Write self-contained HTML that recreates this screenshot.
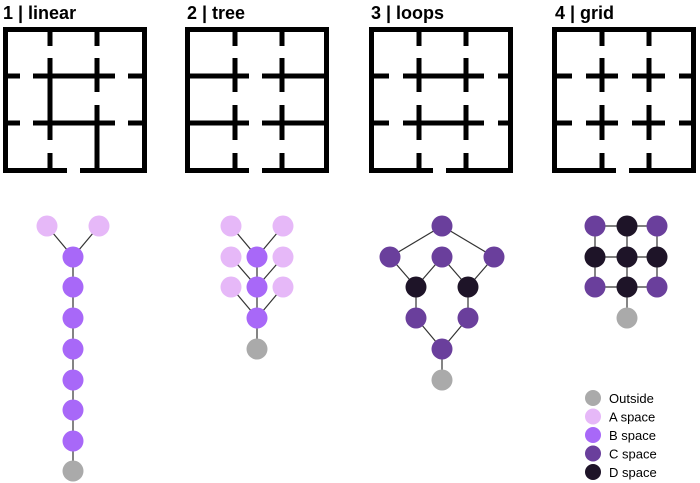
<!DOCTYPE html>
<html><head><meta charset="utf-8"><style>
html,body{margin:0;padding:0;background:#fff;width:700px;height:483px;overflow:hidden}
svg{display:block}
text{font-family:"Liberation Sans",Arial,sans-serif}
</style></head><body>
<svg width="700" height="483" viewBox="0 0 700 483" xmlns="http://www.w3.org/2000/svg">
<defs>
<g id="frame" stroke="#000" stroke-width="5" fill="none">
<line x1="2.5" y1="27" x2="2.5" y2="173"/>
<line x1="141.5" y1="27" x2="141.5" y2="173"/>
<line x1="0" y1="29.5" x2="144" y2="29.5"/>
<line x1="0" y1="170.5" x2="64" y2="170.5"/>
<line x1="77" y1="170.5" x2="144" y2="170.5"/>
</g>
</defs>
<g font-size="18" font-weight="bold" fill="#000">
<text x="3" y="19">1 | linear</text>
<text x="187" y="19">2 | tree</text>
<text x="371" y="19">3 | loops</text>
<text x="555" y="19">4 | grid</text>
</g>
<g transform="translate(3,0)" stroke="#000" stroke-width="5">
<use href="#frame"/>
<line x1="0" y1="76" x2="17" y2="76"/><line x1="30" y1="76" x2="112" y2="76"/><line x1="125" y1="76" x2="144" y2="76"/>
<line x1="0" y1="123" x2="17" y2="123"/><line x1="30" y1="123" x2="112" y2="123"/><line x1="125" y1="123" x2="144" y2="123"/>
<line x1="47" y1="27" x2="47" y2="46"/><line x1="47" y1="58" x2="47" y2="140"/><line x1="47" y1="153" x2="47" y2="173"/>
<line x1="94" y1="27" x2="94" y2="46"/><line x1="94" y1="58" x2="94" y2="92"/><line x1="94" y1="105" x2="94" y2="173"/>
</g>
<g transform="translate(185,0)" stroke="#000" stroke-width="5">
<use href="#frame"/>
<line x1="0" y1="76" x2="64" y2="76"/><line x1="77" y1="76" x2="144" y2="76"/>
<line x1="0" y1="123" x2="64" y2="123"/><line x1="77" y1="123" x2="144" y2="123"/>
<line x1="50" y1="27" x2="50" y2="46"/><line x1="50" y1="58" x2="50" y2="92"/><line x1="50" y1="105" x2="50" y2="140"/><line x1="50" y1="153" x2="50" y2="173"/>
<line x1="97" y1="27" x2="97" y2="46"/><line x1="97" y1="58" x2="97" y2="92"/><line x1="97" y1="105" x2="97" y2="140"/><line x1="97" y1="153" x2="97" y2="173"/>
</g>
<g transform="translate(369,0)" stroke="#000" stroke-width="5">
<use href="#frame"/>
<line x1="0" y1="76" x2="20" y2="76"/><line x1="34" y1="76" x2="115" y2="76"/><line x1="129" y1="76" x2="144" y2="76"/>
<line x1="0" y1="123" x2="20" y2="123"/><line x1="34" y1="123" x2="115" y2="123"/><line x1="129" y1="123" x2="144" y2="123"/>
<line x1="50" y1="27" x2="50" y2="46"/><line x1="50" y1="58" x2="50" y2="92"/><line x1="50" y1="105" x2="50" y2="140"/><line x1="50" y1="153" x2="50" y2="173"/>
<line x1="97" y1="27" x2="97" y2="46"/><line x1="97" y1="58" x2="97" y2="92"/><line x1="97" y1="105" x2="97" y2="140"/><line x1="97" y1="153" x2="97" y2="173"/>
</g>
<g transform="translate(552,0)" stroke="#000" stroke-width="5">
<use href="#frame"/>
<line x1="0" y1="76" x2="20" y2="76"/><line x1="34" y1="76" x2="66" y2="76"/><line x1="80" y1="76" x2="113" y2="76"/><line x1="127" y1="76" x2="144" y2="76"/>
<line x1="0" y1="123" x2="20" y2="123"/><line x1="34" y1="123" x2="66" y2="123"/><line x1="80" y1="123" x2="113" y2="123"/><line x1="127" y1="123" x2="144" y2="123"/>
<line x1="50" y1="27" x2="50" y2="46"/><line x1="50" y1="58" x2="50" y2="92"/><line x1="50" y1="105" x2="50" y2="140"/><line x1="50" y1="153" x2="50" y2="173"/>
<line x1="97" y1="27" x2="97" y2="46"/><line x1="97" y1="58" x2="97" y2="92"/><line x1="97" y1="105" x2="97" y2="140"/><line x1="97" y1="153" x2="97" y2="173"/>
</g>
<g stroke="#333" stroke-width="1.2">
<line x1="47" y1="226" x2="73" y2="257"/><line x1="99" y1="226" x2="73" y2="257"/>
<line x1="73" y1="257" x2="73" y2="471"/>
<line x1="231" y1="226" x2="257" y2="257"/><line x1="283" y1="226" x2="257" y2="257"/>
<line x1="231" y1="257" x2="257" y2="287"/><line x1="283" y1="257" x2="257" y2="287"/>
<line x1="231" y1="287" x2="257" y2="318"/><line x1="283" y1="287" x2="257" y2="318"/>
<line x1="257" y1="257" x2="257" y2="349"/>
<line x1="442" y1="226" x2="390" y2="257"/><line x1="442" y1="226" x2="494" y2="257"/>
<line x1="390" y1="257" x2="416" y2="287"/><line x1="442" y1="257" x2="416" y2="287"/>
<line x1="442" y1="257" x2="468" y2="287"/><line x1="494" y1="257" x2="468" y2="287"/>
<line x1="416" y1="287" x2="416" y2="318"/><line x1="468" y1="287" x2="468" y2="318"/>
<line x1="416" y1="318" x2="442" y2="349"/><line x1="468" y1="318" x2="442" y2="349"/>
<line x1="442" y1="349" x2="442" y2="380"/>
<line x1="595" y1="226" x2="657" y2="226"/><line x1="595" y1="257" x2="657" y2="257"/><line x1="595" y1="287" x2="657" y2="287"/>
<line x1="595" y1="226" x2="595" y2="287"/><line x1="627" y1="226" x2="627" y2="318"/><line x1="657" y1="226" x2="657" y2="287"/>
</g>
<g>
<circle cx="47" cy="226" r="10.5" fill="#e6b8f8"/><circle cx="99" cy="226" r="10.5" fill="#e6b8f8"/>
<circle cx="73" cy="257" r="10.5" fill="#a868f8"/><circle cx="73" cy="287" r="10.5" fill="#a868f8"/>
<circle cx="73" cy="318" r="10.5" fill="#a868f8"/><circle cx="73" cy="349" r="10.5" fill="#a868f8"/>
<circle cx="73" cy="380" r="10.5" fill="#a868f8"/><circle cx="73" cy="410" r="10.5" fill="#a868f8"/>
<circle cx="73" cy="441" r="10.5" fill="#a868f8"/><circle cx="73" cy="471" r="10.5" fill="#aaaaaa"/>
<circle cx="231" cy="226" r="10.5" fill="#e6b8f8"/><circle cx="283" cy="226" r="10.5" fill="#e6b8f8"/>
<circle cx="231" cy="257" r="10.5" fill="#e6b8f8"/><circle cx="283" cy="257" r="10.5" fill="#e6b8f8"/>
<circle cx="231" cy="287" r="10.5" fill="#e6b8f8"/><circle cx="283" cy="287" r="10.5" fill="#e6b8f8"/>
<circle cx="257" cy="257" r="10.5" fill="#a868f8"/><circle cx="257" cy="287" r="10.5" fill="#a868f8"/>
<circle cx="257" cy="318" r="10.5" fill="#a868f8"/><circle cx="257" cy="349" r="10.5" fill="#aaaaaa"/>
<circle cx="442" cy="226" r="10.5" fill="#6a3f9c"/>
<circle cx="390" cy="257" r="10.5" fill="#6a3f9c"/><circle cx="442" cy="257" r="10.5" fill="#6a3f9c"/><circle cx="494" cy="257" r="10.5" fill="#6a3f9c"/>
<circle cx="416" cy="287" r="10.5" fill="#1e1428"/><circle cx="468" cy="287" r="10.5" fill="#1e1428"/>
<circle cx="416" cy="318" r="10.5" fill="#6a3f9c"/><circle cx="468" cy="318" r="10.5" fill="#6a3f9c"/>
<circle cx="442" cy="349" r="10.5" fill="#6a3f9c"/><circle cx="442" cy="380" r="10.5" fill="#aaaaaa"/>
<circle cx="595" cy="226" r="10.5" fill="#6a3f9c"/><circle cx="627" cy="226" r="10.5" fill="#1e1428"/><circle cx="657" cy="226" r="10.5" fill="#6a3f9c"/>
<circle cx="595" cy="257" r="10.5" fill="#1e1428"/><circle cx="627" cy="257" r="10.5" fill="#1e1428"/><circle cx="657" cy="257" r="10.5" fill="#1e1428"/>
<circle cx="595" cy="287" r="10.5" fill="#6a3f9c"/><circle cx="627" cy="287" r="10.5" fill="#1e1428"/><circle cx="657" cy="287" r="10.5" fill="#6a3f9c"/>
<circle cx="627" cy="318" r="10.5" fill="#aaaaaa"/>
</g>
<g font-size="13" fill="#000">
<circle cx="593" cy="398" r="8" fill="#aaaaaa"/><text x="609" y="403">Outside</text>
<circle cx="593" cy="416.5" r="8" fill="#e6b8f8"/><text x="609" y="421.5">A space</text>
<circle cx="593" cy="435" r="8" fill="#a868f8"/><text x="609" y="440">B space</text>
<circle cx="593" cy="453.5" r="8" fill="#6a3f9c"/><text x="609" y="458.5">C space</text>
<circle cx="593" cy="472" r="8" fill="#1e1428"/><text x="609" y="477">D space</text>
</g>
</svg>
</body></html>
